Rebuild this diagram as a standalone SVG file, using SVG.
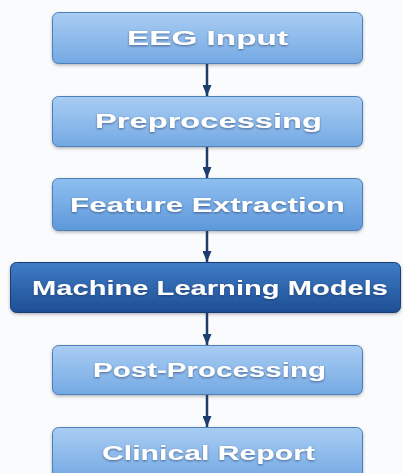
<svg xmlns="http://www.w3.org/2000/svg" width="403" height="473" viewBox="0 0 403 473">
<defs>
<linearGradient id="gl" x1="0" y1="0" x2="0" y2="1">
<stop offset="0" stop-color="#a9cdf3"/>
<stop offset="1" stop-color="#74a9e3"/>
</linearGradient>
<linearGradient id="gm" x1="0" y1="0" x2="0" y2="1">
<stop offset="0" stop-color="#8ebff0"/>
<stop offset="1" stop-color="#5e98da"/>
</linearGradient>
<linearGradient id="gd" x1="0" y1="0" x2="0" y2="1">
<stop offset="0" stop-color="#3f7cc6"/>
<stop offset="1" stop-color="#1e4f94"/>
</linearGradient>
<filter id="sh" x="-10%" y="-20%" width="120%" height="150%">
<feDropShadow dx="0" dy="1.5" stdDeviation="1.5" flood-color="#334" flood-opacity="0.35"/>
</filter>
<filter id="ts" x="-10%" y="-30%" width="120%" height="160%">
<feDropShadow dx="0" dy="1" stdDeviation="0.8" flood-color="#1a2f55" flood-opacity="0.6"/>
</filter>
<marker id="ah" viewBox="0 0 11 9" refX="11" refY="4.5" markerWidth="11" markerHeight="9" markerUnits="userSpaceOnUse" orient="auto">
<path d="M0,0 L11,4.5 L0,9 Z" fill="#1f3d6c"/>
</marker>
</defs>
<style>
.box{stroke:#4f7fb8;stroke-width:1;filter:url(#sh)}
.dk{stroke:#1b3c72}
.lbl{font-family:"Liberation Sans",Arial,sans-serif;font-weight:bold;font-size:19.5px;fill:#ffffff;text-anchor:middle;filter:url(#ts)}
.con{stroke:#1f3d6c;stroke-width:2.5;fill:none;marker-end:url(#ah)}
</style>
<rect width="403" height="473" fill="#fafbfc"/>
<g id="connectors">
<line class="con" x1="207" y1="64" x2="207" y2="96"/>
<line class="con" x1="207" y1="147" x2="207" y2="178"/>
<line class="con" x1="207" y1="231" x2="207" y2="262"/>
<line class="con" x1="207" y1="313" x2="207" y2="345"/>
<line class="con" x1="207" y1="395" x2="207" y2="427"/>
</g>
<g id="eeg-input">
<rect class="box" x="52.5" y="12.5" width="310" height="51" rx="6" fill="url(#gl)"/>
<text class="lbl" x="207.5" y="45" textLength="161" lengthAdjust="spacingAndGlyphs">EEG Input</text>
</g>
<g id="preprocessing">
<rect class="box" x="52.5" y="96.5" width="310" height="50" rx="6" fill="url(#gl)"/>
<text class="lbl" x="208.5" y="128" textLength="227" lengthAdjust="spacingAndGlyphs">Preprocessing</text>
</g>
<g id="feature-extraction">
<rect class="box" x="52.5" y="178.5" width="310" height="52" rx="6" fill="url(#gm)"/>
<text class="lbl" x="207.5" y="212" textLength="275" lengthAdjust="spacingAndGlyphs">Feature Extraction</text>
</g>
<g id="ml-models">
<rect class="box dk" x="10.5" y="262.5" width="390" height="50" rx="6" fill="url(#gd)"/>
<text class="lbl" x="210" y="295" textLength="356" lengthAdjust="spacingAndGlyphs">Machine Learning Models</text>
</g>
<g id="post-processing">
<rect class="box" x="52.5" y="345.5" width="310" height="49" rx="6" fill="url(#gl)"/>
<text class="lbl" x="209.5" y="377" textLength="233" lengthAdjust="spacingAndGlyphs">Post-Processing</text>
</g>
<g id="clinical-report">
<rect class="box" x="52.5" y="427.5" width="310" height="52" rx="6" fill="url(#gl)"/>
<text class="lbl" x="208.5" y="460" textLength="213" lengthAdjust="spacingAndGlyphs">Clinical Report</text>
</g>
</svg>
